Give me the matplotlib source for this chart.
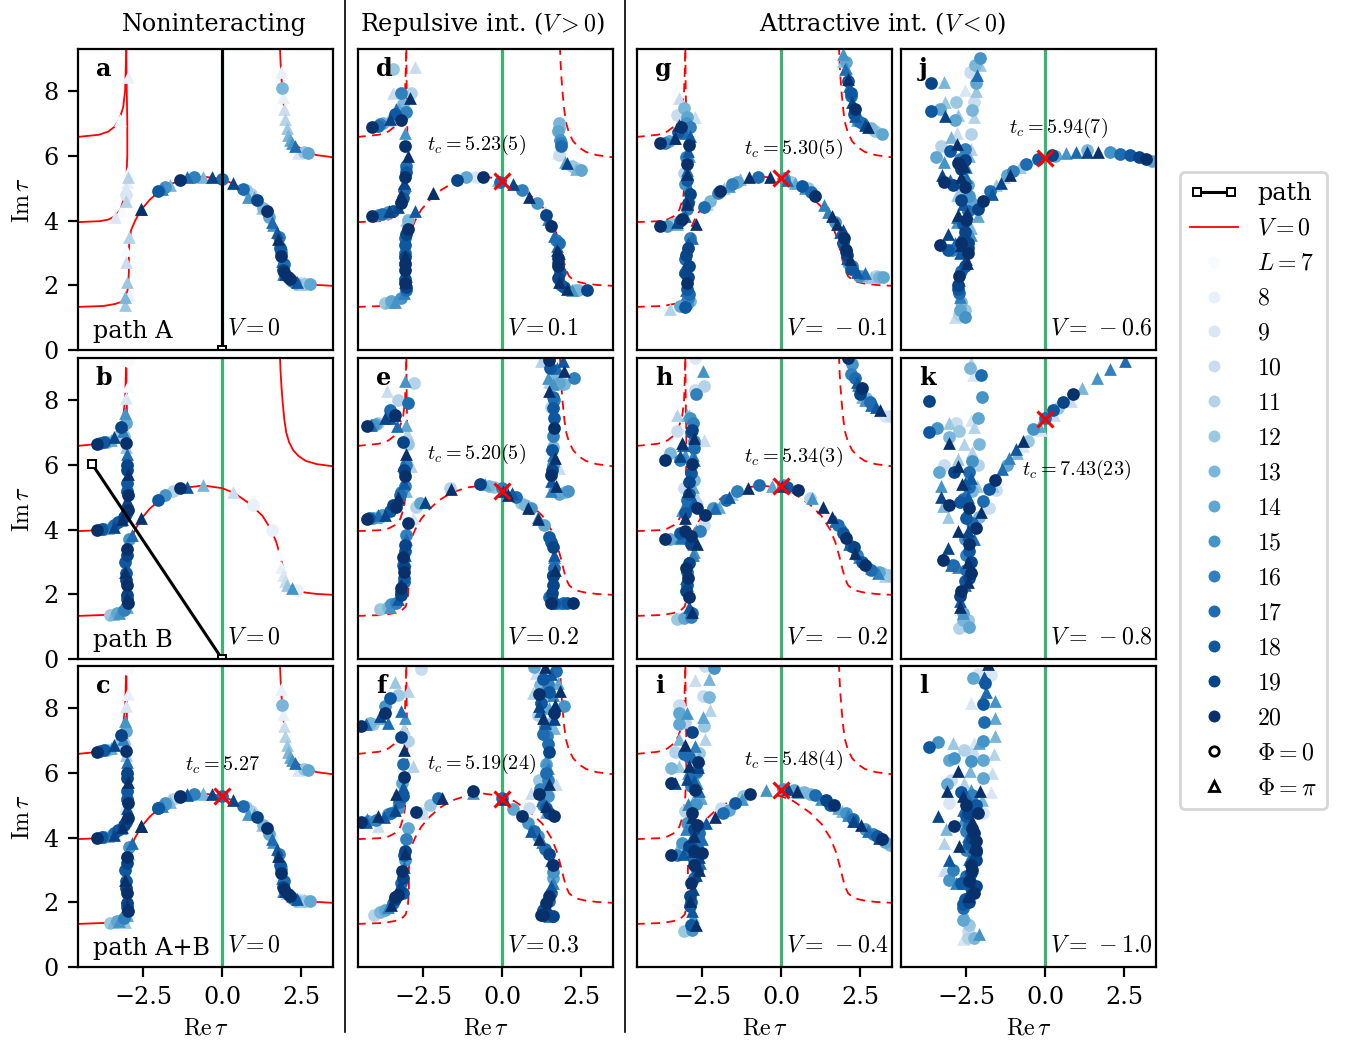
import numpy as np
import matplotlib
matplotlib.use("Agg")
import matplotlib.pyplot as plt
from matplotlib.lines import Line2D
from matplotlib.legend_handler import HandlerLine2D

plt.rcParams["font.family"] = "DejaVu Serif"
plt.rcParams["mathtext.fontset"] = "cm"
plt.rcParams["font.size"] = 8.6

# V=0 reference curves (Re tau, Im tau)
curve_arc = [(-4.6, 1.33), (-3.75, 1.36), (-3.4, 1.42), (-3.2, 1.48), (-3.05, 1.62), (-2.98, 1.9), (-2.95, 2.39),
             (-2.95, 3.0), (-2.94, 3.3), (-2.88, 3.7), (-2.75, 4.0), (-2.56, 4.33), (-2.3, 4.63), (-2.0, 4.9),
             (-1.6, 5.14), (-1.1, 5.3), (-0.6, 5.36), (0.0, 5.28), (0.4, 5.12), (0.9, 4.78), (1.28, 4.42), (1.55, 4.0),
             (1.72, 3.6), (1.85, 3.15), (1.95, 2.75), (2.03, 2.47), (2.12, 2.28), (2.25, 2.17), (2.42, 2.1), (2.65, 2.05),
             (3.0, 2.01), (3.55, 1.98)]
curve_mid = [(-4.6, 3.95), (-3.87, 3.98), (-3.6, 4.03), (-3.4, 4.13), (-3.22, 4.33), (-3.1, 4.7), (-3.03, 5.3),
             (-3.0, 6.0), (-3.0, 7.0), (-3.02, 8.2), (-3.03, 9.4)]
curve_top = [(-4.6, 6.58), (-3.9, 6.65), (-3.6, 6.75), (-3.4, 6.9), (-3.25, 7.13), (-3.13, 7.5), (-3.07, 8.0),
             (-3.05, 8.6), (-3.03, 9.4)]
curve_right = [(1.83, 9.4), (1.85, 8.9), (1.88, 8.4), (1.92, 7.9), (1.97, 7.4), (2.03, 7.0), (2.12, 6.7), (2.25, 6.45),
               (2.42, 6.27), (2.65, 6.12), (3.0, 6.02), (3.55, 5.95)]

# zeros: (Re tau, Im tau, L)
circ_a = [(2.78, 2.03, 14), (2.62, 2.03, 12), (2.5, 2.06, 10), (2.09, 2.25, 20), (2.2, 2.13, 16), (1.93, 2.47, 19),
          (1.95, 2.65, 17), (1.88, 2.89, 20), (1.85, 3.02, 16), (1.83, 3.14, 18), (1.41, 4.28, 20), (1.3, 4.4, 13),
          (1.12, 4.62, 19), (0.9, 4.82, 11), (0.67, 4.98, 17), (0.0, 5.29, 17), (-0.9, 5.35, 16), (-1.33, 5.26, 20),
          (-1.8, 5.05, 15), (-2.04, 4.9, 18), (1.9, 8.08, 13), (2.73, 6.08, 14), (2.58, 6.13, 12), (-3.03, 4.79, 9)]
tri_a = [(-2.99, 8.45, 8), (-3.22, 7.1, 7), (-2.99, 5.5, 7), (-2.99, 5.36, 11), (-3.03, 5.0, 9), (-3.03, 4.6, 11),
         (-3.2, 4.3, 7), (-3.38, 4.12, 9), (-2.56, 4.35, 17), (-2.56, 4.35, 20), (-2.96, 3.48, 11), (-3.03, 3.09, 7),
         (-3.03, 2.73, 10), (-3.01, 2.11, 12), (-2.96, 1.7, 8), (-3.06, 1.63, 13), (-3.08, 1.39, 12),
         (-1.64, 5.1, 13), (-1.9, 4.98, 16), (-1.12, 5.34, 17), (-0.59, 5.36, 13), (-0.33, 5.36, 19), (0.36, 5.15, 19),
         (0.83, 4.74, 15), (1.25, 4.38, 12), (1.57, 3.97, 17), (1.73, 3.66, 18), (1.78, 3.42, 20), (1.9, 2.75, 17),
         (1.93, 2.35, 16), (2.36, 2.11, 18), (2.6, 2.1, 10),
         (1.88, 8.59, 8), (1.93, 7.83, 8), (1.97, 7.44, 10), (2.0, 7.14, 11), (2.04, 6.85, 12), (2.09, 6.65, 13),
         (2.14, 6.5, 14), (2.2, 6.4, 15), (2.31, 6.3, 17), (2.4, 6.1, 9)]
extra_a = [(1.95, 2.4, 20), (2.0, 2.35, 19), (2.15, 2.2, 20), (1.85, 3.3, 17), (1.8, 3.5, 16), (1.6, 3.85, 15),
           (1.5, 4.1, 14), (1.0, 4.72, 14), (0.75, 4.95, 12), (2.45, 2.05, 12), (2.3, 2.08, 14), (-3.0, 5.2, 8)]

circ_b = [(-3.56, 1.36, 12), (-3.33, 1.41, 14), (-2.99, 1.72, 20), (-3.01, 1.98, 19), (-3.01, 2.29, 20),
          (-3.03, 2.65, 18), (-3.06, 3.0, 18), (-3.01, 3.4, 20), (-3.96, 3.98, 20), (-3.75, 4.01, 15), (-3.43, 4.13, 17),
          (-3.12, 4.39, 19), (-2.99, 4.6, 20), (-2.99, 5.08, 20), (-3.01, 5.43, 18), (-3.01, 6.0, 19), (-3.96, 6.63, 20),
          (-3.85, 6.67, 16), (-3.65, 6.72, 13), (-3.03, 6.68, 20), (-3.2, 7.18, 19), (-2.99, 9.2, 7), (-3.1, 6.9, 12),
          (-2.04, 4.92, 18), (-1.8, 5.08, 15), (-1.33, 5.27, 20), (-1.55, 5.2, 11), (0.99, 4.76, 8), (1.57, 3.99, 8),
          (2.36, 2.13, 8)]
tri_b = [(-3.43, 6.85, 19), (-3.06, 7.6, 15), (-3.06, 7.38, 13), (-3.03, 8.06, 9), (-2.99, 8.44, 7), (-3.01, 6.34, 17),
         (-2.99, 5.72, 20), (-3.01, 5.3, 18), (-3.01, 4.75, 19), (-3.43, 4.09, 19), (-3.2, 4.3, 16), (-2.85, 3.83, 17),
         (-3.06, 2.68, 20), (-3.0, 1.9, 20), (-3.27, 1.41, 15), (-2.56, 4.35, 20), (-1.12, 5.3, 18), (-0.59, 5.38, 13),
         (0.36, 5.17, 10), (1.81, 3.25, 7), (1.88, 2.85, 8), (1.94, 2.6, 9), (1.99, 2.4, 10), (2.04, 2.3, 12),
         (2.2, 2.19, 15)]
extra_b = [(-3.0, 1.85, 18), (-3.02, 2.15, 18), (-3.05, 2.45, 19), (-3.03, 2.85, 17), (-3.02, 3.2, 19), (-3.0, 3.55, 16),
           (-2.95, 3.7, 15), (-3.45, 1.38, 13), (-3.1, 1.5, 16), (-3.0, 1.6, 14), (-3.8, 4.03, 18), (-3.6, 4.06, 14),
           (-3.3, 4.22, 18), (-3.18, 4.33, 20), (-3.03, 4.48, 18), (-3.0, 4.9, 19), (-3.0, 5.2, 18), (-3.0, 5.6, 17),
           (-3.02, 5.85, 19), (-3.0, 6.15, 16), (-3.75, 6.7, 18), (-3.5, 6.78, 14), (-3.3, 6.9, 12), (-3.15, 7.05, 16),
           (-3.03, 7.3, 14), (-3.05, 6.55, 12)]

circ_d = [(-3.72, 1.44, 12), (-3.5, 1.5, 14), (-3.03, 1.85, 17), (-3.08, 2.06, 20), (-3.08, 2.47, 20), (-3.06, 2.88, 19),
          (-3.06, 3.25, 18), (-3.03, 3.58, 19), (-2.98, 3.73, 20), (-2.98, 4.02, 13), (-4.12, 4.15, 20), (-3.93, 4.17, 15),
          (-3.6, 4.25, 15), (-3.2, 4.54, 20), (-3.09, 4.95, 17), (-3.08, 5.36, 20), (-3.03, 5.67, 17), (-3.06, 6.29, 20),
          (-4.12, 6.89, 20), (-3.93, 6.93, 17), (-3.77, 7.0, 13), (-3.2, 7.11, 20), (-3.03, 7.34, 16), (-3.19, 7.94, 16),
          (-2.88, 7.94, 11), (-3.45, 8.68, 12), (-1.42, 5.26, 19), (-1.13, 5.34, 14), (-0.82, 5.36, 9), (-0.59, 5.36, 20),
          (-0.08, 5.2, 17), (0.62, 4.95, 16), (1.1, 4.54, 15), (1.39, 4.18, 19), (1.55, 3.84, 20), (1.78, 2.84, 20),
          (1.76, 2.58, 20), (1.76, 2.22, 19), (1.87, 2.0, 17), (2.39, 1.84, 13), (2.7, 1.84, 19), (1.81, 7.0, 13),
          (1.78, 6.76, 14), (1.84, 6.5, 15), (1.88, 6.3, 17), (1.81, 6.03, 10), (2.49, 5.55, 14), (2.33, 5.62, 11),
          (1.82, 2.4, 18), (1.8, 3.3, 17), (-3.07, 2.2, 18), (-3.08, 3.0, 17)]
tri_d = [(-3.45, 7.94, 10), (-2.93, 7.8, 20), (-2.77, 8.74, 10), (-3.35, 7.44, 17), (-3.56, 7.13, 19), (-3.08, 6.7, 15),
         (-2.98, 5.98, 20), (-3.03, 5.78, 14), (-3.19, 4.8, 20), (-3.59, 4.28, 19), (-3.03, 4.02, 12), (-2.77, 4.28, 18),
         (-2.19, 4.85, 17), (-2.19, 4.85, 20), (-3.08, 2.89, 20), (-3.08, 2.1, 20), (-3.4, 1.49, 15), (0.36, 5.13, 19),
         (-0.13, 5.26, 13), (0.86, 4.74, 20), (1.63, 3.51, 17), (1.74, 3.09, 20), (2.07, 1.88, 20), (2.05, 5.77, 19),
         (1.75, 6.1, 8), (1.35, 4.25, 11)]
extra_d = [(-3.05, 1.95, 19), (-3.05, 2.3, 19), (-3.06, 2.65, 20), (-3.08, 3.1, 18), (-3.07, 3.45, 17), (-3.1, 1.75, 16),
           (-3.2, 1.6, 15), (-3.55, 1.48, 13), (-3.8, 4.2, 17), (-3.7, 4.22, 13), (-3.45, 4.3, 18), (-3.3, 4.42, 19),
           (-3.15, 4.7, 18), (-3.1, 5.15, 19), (-3.05, 5.5, 18), (-3.07, 5.1, 16), (-3.85, 6.97, 16), (-3.6, 7.1, 12),
           (-3.4, 7.3, 18), (-3.25, 7.45, 14), (-3.15, 7.6, 13), (1.8, 3.0, 19), (1.78, 2.7, 18), (1.8, 2.1, 20),
           (1.95, 1.95, 18), (2.2, 1.85, 15), (2.3, 1.85, 12), (1.75, 3.2, 17), (1.7, 3.4, 16), (1.45, 4.05, 16),
           (1.8, 6.85, 13), (1.82, 6.65, 14), (1.85, 6.4, 16), (2.0, 5.8, 14), (2.2, 5.7, 12), (2.35, 5.6, 13)]

circ_e = [(-3.87, 1.55, 12), (-3.61, 1.62, 13), (-3.35, 1.72, 16), (-3.19, 1.98, 19), (-3.19, 2.19, 20), (-3.11, 2.39, 17),
          (-3.11, 2.7, 20), (-3.14, 2.91, 17), (-3.06, 3.53, 19), (-3.03, 3.84, 16), (-2.98, 4.2, 20), (-4.29, 4.33, 20),
          (-4.08, 4.35, 15), (-3.87, 4.4, 13), (-3.35, 4.71, 20), (-3.56, 4.56, 18), (-3.24, 5.07, 17), (-3.08, 5.33, 16),
          (-3.08, 5.64, 20), (-3.03, 6.0, 16), (-3.14, 6.7, 19), (-2.98, 6.64, 12), (-4.29, 7.19, 20), (-4.08, 7.24, 15),
          (-3.92, 7.29, 11), (-3.4, 7.55, 20), (-3.56, 7.7, 17), (-3.29, 8.01, 11), (-2.98, 7.91, 17), (-2.78, 8.53, 11),
          (-2.74, 4.71, 11), (-2.61, 4.81, 14), (-1.66, 5.28, 11), (-0.69, 5.4, 19), (-0.4, 5.36, 13), (0.0, 5.28, 16),
          (0.44, 4.99, 17), (0.6, 4.82, 12), (0.92, 4.66, 15), (1.34, 4.14, 14), (1.47, 3.78, 18), (1.62, 3.47, 19),
          (1.65, 2.8, 17), (1.62, 2.29, 19), (1.49, 1.93, 17), (1.55, 1.72, 20), (1.92, 1.72, 17), (2.23, 1.72, 20),
          (2.0, 5.15, 13), (2.08, 5.2, 15), (1.6, 5.33, 11), (1.54, 5.67, 20), (1.6, 6.0, 15), (1.65, 7.13, 20),
          (1.63, 7.44, 18), (1.62, 7.75, 18), (1.55, 7.8, 11), (1.6, 8.11, 17), (1.81, 8.53, 14), (2.26, 8.68, 16),
          (1.97, 8.5, 13), (1.47, 9.25, 20), (-3.15, 3.15, 20), (-3.1, 2.5, 18), (1.6, 2.6, 18), (1.57, 2.05, 19),
          (1.6, 6.9, 16), (1.6, 6.55, 13)]
tri_e = [(-3.08, 8.58, 15), (-3.64, 8.29, 10), (-3.4, 7.55, 20), (-3.72, 7.44, 19), (-3.32, 7.19, 17), (-3.05, 7.24, 14),
         (-3.0, 6.98, 11), (-3.05, 6.33, 20), (-2.87, 5.95, 11), (-3.14, 6.0, 17), (-2.95, 6.1, 10), (-3.05, 5.2, 13),
         (-3.29, 5.02, 20), (-3.72, 4.45, 19), (-3.94, 4.45, 17), (-3.4, 4.8, 19), (-2.82, 4.35, 9), (-2.45, 4.84, 19),
         (-1.63, 5.25, 20), (-3.08, 3.22, 18), (-3.08, 3.06, 14), (-3.19, 2.29, 20), (-3.56, 1.62, 15), (0.02, 5.2, 19),
         (0.18, 5.07, 20), (0.83, 4.66, 20), (1.15, 4.32, 20), (1.67, 2.75, 20), (1.65, 3.16, 16), (1.7, 5.33, 20),
         (1.67, 6.2, 20), (1.55, 6.62, 13), (1.81, 5.9, 10), (1.47, 8.27, 20), (1.44, 8.68, 15), (1.97, 8.89, 20),
         (1.94, 9.2, 18), (1.71, 8.83, 12), (1.24, 9.21, 11)]
extra_e = [(-3.5, 1.7, 15), (-3.3, 1.85, 18), (-3.2, 2.05, 19), (-3.12, 2.55, 18), (-3.12, 2.85, 19), (-3.1, 3.05, 17),
           (-3.07, 3.35, 18), (-3.05, 3.7, 17), (-4.2, 4.35, 18), (-4.0, 4.38, 14), (-3.8, 4.45, 15), (-3.6, 4.6, 18),
           (-3.45, 4.75, 19), (-3.3, 4.95, 18), (-3.2, 5.15, 16), (-3.12, 5.45, 18), (-3.1, 5.85, 19), (-4.15, 7.22, 17),
           (-4.0, 7.26, 14), (-3.55, 7.45, 18), (-3.5, 7.6, 15), (-0.55, 5.4, 14), (-0.25, 5.32, 12), (0.3, 5.12, 18),
           (0.72, 4.75, 13), (1.15, 4.4, 16), (1.55, 3.6, 18), (1.65, 3.2, 18), (1.62, 2.55, 19), (1.55, 2.1, 18),
           (1.65, 1.72, 18), (1.75, 1.72, 16), (2.05, 1.72, 18), (1.55, 5.5, 18), (1.58, 5.85, 19), (1.62, 6.3, 17),
           (1.57, 6.45, 18), (1.55, 5.2, 16), (1.8, 5.1, 14), (1.6, 8.5, 15), (1.7, 8.7, 13), (1.5, 8.55, 11),
           (1.65, 8.0, 16), (1.75, 9.0, 17), (1.52, 9.0, 18)]

circ_f = [(-4.06, 1.62, 11), (-3.71, 1.77, 14), (-3.45, 1.98, 17), (-3.29, 2.24, 20), (-3.19, 2.6, 17), (-3.17, 2.96, 20),
          (-3.08, 3.32, 15), (-3.06, 3.58, 19), (-3.03, 3.94, 16), (-2.98, 4.3, 14), (-2.72, 4.79, 20), (-2.56, 4.76, 10),
          (-2.29, 5.02, 12), (-2.03, 5.23, 17), (-4.45, 4.47, 20), (-4.24, 4.5, 14), (-3.5, 4.76, 17), (-3.29, 4.92, 15),
          (-3.14, 5.28, 18), (-3.12, 5.88, 20), (-3.14, 6.26, 17), (-3.19, 7.11, 19), (-2.98, 6.98, 11), (-4.45, 7.44, 20),
          (-4.19, 7.55, 13), (-3.72, 7.86, 20), (-3.72, 8.06, 15), (-3.56, 8.32, 18), (-3.29, 8.39, 12), (-2.56, 9.22, 10),
          (-0.93, 5.43, 20), (0.0, 5.23, 17), (0.34, 4.87, 14), (0.62, 4.68, 20), (0.86, 4.92, 10), (0.81, 4.45, 15),
          (1.13, 4.04, 15), (1.47, 3.5, 19), (1.6, 3.16, 20), (1.6, 2.75, 14), (1.55, 2.29, 17), (1.39, 1.98, 20),
          (1.23, 1.62, 20), (1.6, 1.57, 19), (1.44, 1.62, 16), (1.65, 4.68, 20), (1.39, 4.92, 18), (1.16, 5.33, 20),
          (1.44, 5.28, 15), (1.16, 5.79, 12), (1.44, 5.79, 16), (1.39, 6.26, 14), (1.47, 6.64, 19), (1.44, 6.88, 17),
          (1.41, 7.15, 16), (1.65, 7.86, 20), (1.95, 8.06, 15), (1.18, 8.45, 20), (1.24, 8.16, 18), (1.13, 7.8, 11),
          (1.44, 8.73, 16), (1.7, 9.14, 17), (1.02, 9.28, 14), (1.44, 8.37, 12), (1.3, 1.75, 18), (1.5, 2.05, 17),
          (1.35, 7.4, 15), (-3.4, 2.1, 19), (-3.15, 2.3, 18)]
tri_f = [(-3.4, 8.8, 12), (-2.98, 8.53, 11), (-3.19, 7.91, 17), (-3.08, 7.7, 15), (-3.61, 7.55, 17), (-3.87, 7.75, 19),
         (-3.12, 7.39, 11), (-3.12, 6.72, 20), (-2.82, 6.22, 11), (-3.35, 5.33, 20), (-3.94, 4.66, 20), (-4.29, 4.56, 16),
         (-3.94, 4.37, 10), (-3.08, 3.53, 20), (-3.24, 2.54, 19), (-3.5, 1.93, 20), (-1.89, 5.23, 20), (-0.93, 5.38, 15),
         (-2.51, 4.76, 10), (0.07, 5.2, 19), (0.92, 4.2, 18), (1.16, 3.94, 20), (1.6, 2.6, 16), (1.47, 5.64, 20),
         (1.39, 4.97, 20), (0.92, 5.38, 10), (1.44, 6.15, 16), (1.7, 5.64, 10), (1.31, 7.7, 20), (1.67, 8.11, 20),
         (1.65, 7.39, 13), (0.97, 8.47, 11), (1.83, 8.53, 20), (1.18, 8.06, 19), (1.76, 8.78, 14), (1.37, 9.28, 20),
         (1.55, 9.04, 18), (1.07, 9.09, 10)]
extra_f = [(-3.85, 1.7, 13), (-3.6, 1.85, 16), (-3.4, 2.15, 20), (-3.25, 2.4, 18), (-3.15, 2.75, 19), (-3.12, 3.1, 17),
           (-3.1, 3.45, 18), (-4.3, 4.48, 18), (-4.0, 4.55, 16), (-3.75, 4.65, 18), (-3.6, 4.72, 15), (-3.4, 4.85, 19),
           (-3.25, 5.1, 17), (-3.15, 5.55, 18), (-3.18, 5.7, 14), (-4.3, 7.5, 17), (-4.1, 7.5, 12), (-3.85, 7.7, 14),
           (1.0, 4.2, 17), (1.25, 3.85, 16), (1.35, 3.65, 17), (1.55, 3.3, 18), (1.6, 2.95, 15), (1.55, 2.5, 18),
           (1.48, 2.2, 20), (1.42, 1.85, 19), (1.3, 1.6, 20), (1.5, 1.58, 17), (1.3, 5.0, 16), (1.25, 5.15, 17),
           (1.5, 4.75, 19), (1.4, 4.8, 14), (1.2, 5.5, 16), (1.45, 5.5, 12), (1.4, 6.0, 17), (1.38, 6.4, 15),
           (1.3, 7.2, 17), (1.35, 7.55, 18), (1.45, 7.5, 13), (1.2, 7.9, 18), (1.3, 8.0, 12), (1.5, 8.0, 14),
           (1.5, 8.5, 18), (1.35, 8.65, 15), (1.2, 8.7, 13), (1.6, 8.4, 16), (1.3, 8.9, 18), (1.65, 7.65, 19)]

circ_g = [(-3.03, 1.34, 18), (-3.19, 1.36, 14), (-2.87, 1.52, 13), (-2.93, 1.72, 17), (-2.98, 2.08, 20), (-3.03, 2.39, 18),
          (-3.03, 2.8, 17), (-2.96, 3.14, 19), (-2.87, 3.47, 16), (-3.82, 3.84, 20), (-3.61, 3.84, 15), (-3.45, 3.89, 12),
          (-3.14, 4.04, 20), (-2.98, 4.35, 16), (-2.87, 4.81, 19), (-3.03, 5.12, 15), (-2.98, 5.74, 20), (-3.08, 5.48, 11),
          (-2.93, 6.34, 20), (-3.82, 6.39, 20), (-3.66, 6.41, 16), (-3.16, 6.88, 20), (-2.87, 6.88, 16), (-2.98, 7.19, 14),
          (-3.06, 7.47, 13), (-3.3, 7.26, 10), (-2.45, 4.42, 17), (-2.24, 4.6, 13), (-1.93, 4.92, 20), (-1.56, 5.14, 16),
          (-0.74, 5.36, 17), (0.09, 5.31, 15), (0.65, 5.07, 18), (0.86, 5.02, 12), (1.07, 4.76, 20), (1.97, 3.32, 18),
          (2.13, 2.7, 14), (2.04, 3.02, 17), (3.0, 2.29, 11), (3.23, 2.27, 14), (2.34, 7.44, 20), (2.21, 7.86, 17),
          (2.13, 8.32, 18), (2.97, 6.77, 12), (3.2, 6.67, 14), (2.44, 7.08, 16), (-2.92, 2.6, 19), (-2.97, 1.9, 18),
          (2.0, 3.45, 20), (2.1, 2.95, 19), (2.2, 2.5, 18), (2.45, 2.3, 15)]
tri_g = [(-3.24, 7.8, 10), (-2.72, 7.19, 10), (-3.24, 6.95, 20), (-3.37, 6.54, 20), (-2.87, 6.62, 18), (-2.93, 6.0, 15),
         (-2.98, 5.43, 20), (-2.93, 4.76, 14), (-2.98, 4.5, 20), (-3.29, 3.94, 19), (-2.68, 3.89, 20), (-2.82, 3.47, 17),
         (-3.03, 2.5, 19), (-3.5, 1.26, 11), (-1.03, 5.33, 20), (-0.35, 5.35, 20), (-1.29, 5.28, 13), (-1.66, 5.07, 15),
         (0.44, 5.17, 14), (1.36, 4.47, 16), (1.6, 4.14, 20), (1.76, 3.89, 20), (2.18, 2.8, 20), (2.65, 2.39, 17),
         (2.76, 6.88, 20), (1.97, 9.14, 15), (2.02, 8.68, 17), (2.13, 8.37, 20), (1.97, 8.94, 12), (2.5, 7.13, 17),
         (2.34, 7.24, 18), (1.95, 3.7, 19)]
extra_g = [(-2.95, 1.6, 16), (-3.0, 1.85, 17), (-2.95, 2.25, 19), (-3.03, 2.6, 18), (-3.02, 2.95, 19), (-2.95, 3.3, 18),
           (-2.98, 1.42, 15), (-3.3, 3.9, 14), (-3.2, 3.98, 17), (-3.05, 4.15, 18), (-2.95, 4.55, 19), (-2.92, 5.0, 17),
           (-2.97, 5.25, 18), (-2.98, 5.55, 17), (-3.0, 5.95, 16), (-2.95, 6.15, 18), (-3.55, 6.45, 14), (-3.4, 6.55, 17),
           (-3.25, 6.75, 18), (-3.05, 6.7, 17), (-3.0, 7.0, 15), (-2.35, 4.5, 11), (-2.0, 4.85, 16), (-1.8, 5.0, 12),
           (-1.4, 5.2, 14), (0.2, 5.25, 17), (0.3, 5.2, 12), (0.75, 5.0, 15), (0.95, 4.88, 17), (1.5, 4.25, 16),
           (1.7, 3.95, 15), (1.85, 3.65, 18), (2.05, 3.1, 20), (2.1, 2.85, 18), (2.25, 2.6, 16), (2.4, 2.4, 18),
           (2.6, 2.3, 13), (2.85, 2.27, 12), (3.1, 2.25, 13), (2.15, 8.15, 17), (2.2, 7.95, 18), (2.25, 7.65, 19),
           (2.3, 7.3, 18), (2.4, 7.1, 14), (2.55, 7.0, 17), (2.65, 6.95, 19), (2.85, 6.85, 13), (2.05, 8.7, 15),
           (2.05, 8.9, 14)]

circ_h = [(-3.29, 1.24, 12), (-3.08, 1.26, 14), (-2.82, 1.41, 17), (-2.93, 1.93, 20), (-2.98, 2.29, 18), (-2.98, 2.7, 17),
          (-2.93, 2.96, 19), (-3.66, 3.71, 20), (-3.5, 3.71, 14), (-3.03, 3.94, 20), (-2.56, 3.94, 16), (-2.45, 4.14, 10),
          (-2.66, 4.66, 20), (-2.98, 4.92, 17), (-2.93, 5.48, 19), (-3.08, 5.28, 10), (-2.77, 5.54, 13), (-2.82, 6.02, 20),
          (-3.66, 6.15, 20), (-3.5, 6.36, 13), (-2.77, 6.52, 17), (-2.82, 7.08, 19), (-3.29, 7.05, 10), (-2.88, 7.44, 15),
          (-2.68, 8.18, 16), (-2.45, 8.42, 11), (-2.72, 8.32, 10), (-2.74, 9.3, 9), (-2.4, 4.45, 20), (-2.14, 4.66, 15),
          (-1.4, 5.2, 16), (-0.69, 5.38, 17), (0.07, 5.38, 15), (0.53, 5.23, 20), (0.92, 4.97, 11), (1.81, 4.14, 17),
          (2.04, 3.75, 20), (2.65, 2.89, 20), (2.39, 3.22, 16), (3.39, 2.6, 12), (2.55, 8.37, 20), (2.34, 8.68, 17),
          (2.23, 9.11, 15), (2.13, 9.3, 20), (2.7, 8.06, 13), (3.44, 7.5, 10), (3.1, 2.7, 14), (2.85, 2.75, 17),
          (-2.85, 3.55, 19), (-3.2, 3.9, 18), (-2.95, 2.5, 20), (2.2, 3.5, 18)]
tri_h = [(-3.29, 7.55, 11), (-2.98, 7.55, 13), (-3.14, 6.67, 20), (-2.77, 6.82, 20), (-3.19, 6.26, 19), (-2.8, 6.31, 16),
         (-2.45, 6.77, 10), (-2.93, 5.64, 14), (-2.95, 5.18, 20), (-2.66, 4.97, 11), (-3.03, 4.35, 20), (-3.14, 3.78, 17),
         (-2.66, 3.55, 20), (-2.8, 3.22, 16), (-2.98, 2.29, 19), (-2.82, 1.46, 20), (-2.47, 8.89, 15), (-1.66, 5.02, 18),
         (-1.05, 5.28, 20), (-0.29, 5.36, 14), (-2.08, 4.66, 17), (0.02, 5.33, 19), (0.97, 4.97, 15), (1.34, 4.71, 20),
         (1.6, 4.4, 20), (2.02, 3.94, 17), (2.34, 3.27, 20), (3.07, 2.65, 16), (3.13, 7.7, 20), (2.86, 7.85, 17),
         (2.44, 8.47, 16), (2.55, 8.11, 13)]
extra_h = [(-2.85, 1.3, 16), (-2.9, 1.6, 18), (-3.0, 2.1, 19), (-3.0, 2.5, 18), (-3.0, 2.8, 20), (-2.75, 3.3, 15),
           (-2.95, 3.7, 17), (-3.2, 3.75, 16), (-2.85, 3.8, 20), (-2.7, 4.0, 14), (-3.05, 4.5, 18), (-3.15, 4.6, 15),
           (-2.95, 4.7, 17), (-2.75, 4.85, 18), (-2.9, 5.1, 18), (-2.8, 5.3, 14), (-2.85, 5.75, 18), (-2.75, 6.15, 17),
           (-3.2, 6.15, 16), (-3.05, 6.3, 15), (-2.75, 6.75, 15), (-3.1, 6.6, 18), (-2.8, 7.3, 16), (-2.9, 7.55, 12),
           (-2.85, 7.0, 18), (-1.95, 4.7, 14), (-1.75, 4.9, 17), (-1.55, 5.1, 12), (0.2, 5.3, 18), (1.7, 4.25, 17),
           (1.95, 3.9, 18), (2.15, 3.55, 17), (2.3, 3.45, 19), (2.45, 3.15, 16), (2.55, 3.0, 18), (2.85, 2.8, 15),
           (3.2, 2.65, 12), (3.3, 2.55, 11), (2.2, 8.8, 16), (2.4, 8.55, 18), (2.5, 8.2, 19), (2.65, 8.0, 15),
           (2.8, 7.95, 17), (3.0, 7.8, 18), (3.3, 7.5, 9)]

circ_i = [(-3.08, 1.12, 12), (-2.82, 1.15, 15), (-2.87, 1.88, 18), (-2.87, 2.19, 19), (-2.84, 2.58, 20), (-2.66, 3.0, 18),
          (-2.5, 3.53, 20), (-2.76, 3.58, 20), (-3.48, 3.45, 20), (-3.29, 3.47, 16), (-3.14, 3.84, 15), (-2.66, 4.4, 20),
          (-2.98, 4.45, 15), (-2.82, 4.76, 20), (-3.03, 4.81, 11), (-2.74, 5.46, 20), (-3.48, 5.67, 20), (-2.63, 6.33, 20),
          (-3.48, 6.15, 13), (-3.08, 6.57, 17), (-3.35, 6.64, 11), (-2.61, 6.62, 12), (-2.82, 7.27, 19), (-3.22, 7.5, 14),
          (-3.03, 7.57, 11), (-2.45, 7.44, 12), (-3.24, 7.85, 14), (-3.24, 8.11, 10), (-2.29, 8.34, 13), (-2.47, 8.37, 10),
          (-2.13, 9.25, 15), (-2.42, 9.3, 10), (-1.85, 4.76, 17), (-1.89, 4.92, 10), (-1.45, 5.07, 18), (-0.98, 5.33, 20),
          (-1.19, 5.28, 12), (0.07, 5.51, 15), (0.71, 5.4, 13), (1.07, 5.3, 17), (1.41, 5.15, 19), (1.67, 5.0, 20),
          (2.28, 4.56, 17), (3.02, 4.04, 18), (3.2, 3.94, 20), (3.44, 3.78, 13), (-2.9, 3.75, 19), (-2.7, 4.05, 16),
          (-2.75, 3.3, 17), (-2.85, 5.9, 17), (-2.7, 6.0, 14)]
tri_i = [(-2.74, 8.87, 10), (-2.29, 8.89, 13), (-2.98, 7.85, 15), (-2.47, 7.72, 14), (-2.24, 7.93, 11), (-3.24, 7.03, 13),
         (-2.4, 7.05, 11), (-3.03, 6.85, 20), (-2.72, 6.82, 16), (-2.93, 6.21, 20), (-2.63, 6.19, 19), (-3.24, 6.21, 12),
         (-2.98, 5.8, 19), (-3.37, 5.67, 19), (-2.66, 5.69, 15), (-2.77, 5.18, 13), (-2.53, 5.23, 14), (-2.82, 4.64, 20),
         (-2.08, 4.64, 20), (-2.38, 4.45, 18), (-2.76, 4.04, 20), (-2.5, 3.94, 17), (-2.98, 3.63, 16), (-3.29, 3.6, 13),
         (-2.8, 3.58, 19), (-2.56, 3.22, 17), (-2.61, 3.0, 20), (-2.87, 2.03, 20), (-2.82, 1.72, 18), (-2.68, 1.31, 20),
         (-2.82, 1.47, 13), (-0.48, 5.46, 15), (0.49, 5.43, 20), (1.94, 4.82, 13), (2.28, 4.51, 19), (2.53, 4.4, 20),
         (2.13, 4.71, 16), (0.23, 5.51, 19)]
extra_i = [(-2.85, 1.3, 18), (-2.8, 1.55, 15), (-2.85, 2.0, 18), (-2.8, 2.4, 19), (-2.75, 2.75, 17), (-2.7, 2.85, 19),
           (-2.75, 3.15, 20), (-2.6, 3.4, 19), (-2.9, 3.55, 17), (-3.1, 3.5, 18), (-2.65, 3.75, 17), (-2.85, 3.95, 18),
           (-2.6, 4.15, 17), (-3.0, 4.25, 16), (-2.75, 4.25, 19), (-2.95, 5.05, 16), (-2.7, 5.05, 15), (-2.75, 5.75, 18),
           (-2.85, 5.6, 16), (-2.6, 5.45, 17), (-2.65, 6.05, 17), (-2.95, 6.0, 15), (-2.9, 6.5, 17), (-2.6, 6.45, 13),
           (-1.65, 4.85, 14), (-1.25, 5.2, 15), (0.4, 5.48, 14), (0.55, 5.42, 15), (0.9, 5.35, 13), (1.25, 5.2, 15),
           (1.55, 5.0, 18), (1.8, 4.9, 14), (2.05, 4.75, 15), (2.35, 4.5, 18), (2.65, 4.25, 15), (2.75, 4.2, 17),
           (2.9, 4.1, 16), (3.1, 3.98, 19), (3.3, 3.85, 14)]

circ_j = [(-2.55, 1.03, 15), (-2.71, 1.08, 11), (-2.55, 1.24, 12), (-2.66, 1.49, 13), (-2.71, 1.75, 17), (-2.76, 2.0, 19),
          (-2.74, 2.29, 20), (-2.44, 2.99, 20), (-3.34, 3.25, 20), (-3.08, 3.09, 18), (-2.55, 3.66, 19), (-2.66, 3.3, 20),
          (-2.49, 4.02, 20), (-1.95, 4.6, 20), (-2.13, 4.37, 19), (-2.34, 4.58, 14), (-2.66, 4.65, 19), (-2.55, 5.05, 20),
          (-3.2, 5.2, 20), (-2.76, 5.77, 20), (-2.52, 5.87, 19), (-3.46, 5.95, 14), (-3.29, 6.29, 11), (-3.02, 6.15, 18),
          (-2.55, 6.2, 16), (-2.36, 6.67, 11), (-2.31, 7.42, 13), (-2.26, 7.65, 10), (-2.81, 7.65, 12), (-2.86, 7.11, 14),
          (-3.34, 7.44, 14), (-3.62, 7.39, 18), (-3.62, 8.25, 19), (-2.18, 8.25, 14), (-2.37, 8.58, 10), (-2.07, 9.02, 15),
          (-2.23, 8.81, 13), (-1.02, 5.52, 16), (-0.6, 5.74, 17), (-0.23, 5.91, 18), (0.21, 6.01, 19), (2.04, 6.11, 15),
          (2.38, 6.06, 17), (2.69, 6.01, 18), (2.97, 5.96, 19), (3.2, 5.91, 20), (3.39, 5.83, 14), (1.32, 6.18, 13),
          (-2.45, 3.3, 19), (-2.55, 2.6, 18)]
tri_j = [(-2.86, 1.03, 10), (-2.48, 2.68, 20), (-2.44, 3.5, 17), (-2.34, 3.76, 13), (-3.06, 3.59, 19), (-2.85, 3.2, 17),
         (-2.66, 3.25, 20), (-2.75, 4.18, 20), (-2.48, 4.23, 20), (-2.13, 4.13, 14), (-2.8, 3.97, 15), (-3.27, 5.41, 19),
         (-2.66, 5.36, 20), (-2.57, 5.67, 20), (-3.2, 5.8, 15), (-2.8, 6.37, 20), (-2.97, 6.58, 13), (-2.8, 4.8, 12),
         (-2.8, 6.7, 10), (-2.34, 6.2, 11), (-1.1, 5.41, 20), (-1.41, 5.15, 19), (-1.69, 4.82, 18), (-1.31, 5.36, 11),
         (0.65, 6.1, 15), (0.99, 6.13, 17), (1.32, 6.13, 19), (1.66, 6.13, 20), (-2.26, 7.2, 11), (-2.2, 8.0, 12),
         (-2.52, 8.02, 9), (-3.2, 8.27, 13), (-2.16, 8.5, 17), (-2.05, 8.81, 12), (-3.17, 7.65, 12), (-3.17, 7.24, 19),
         (-2.77, 7.27, 12)]
extra_j = [(-2.7, 1.25, 14), (-2.68, 1.65, 16), (-2.75, 1.9, 18), (-2.72, 2.15, 18), (-2.65, 2.45, 17), (-2.5, 2.8, 19),
           (-2.45, 3.15, 19), (-2.7, 3.0, 18), (-2.95, 3.1, 16), (-2.85, 3.3, 17), (-2.6, 3.4, 18), (-2.35, 3.55, 15),
           (-2.6, 3.9, 18), (-2.8, 4.1, 17), (-2.45, 4.3, 17), (-2.6, 4.5, 18), (-2.4, 4.75, 15), (-2.5, 5.35, 17),
           (-2.9, 5.1, 19), (-3.0, 5.25, 17), (-2.65, 5.6, 19), (-2.5, 5.65, 16), (-2.45, 5.1, 14), (-2.7, 4.9, 12),
           (-2.7, 5.9, 16), (-2.4, 6.0, 13), (-1.75, 4.9, 17), (-1.55, 5.1, 12), (-1.2, 5.4, 14), (-0.8, 5.65, 12),
           (0.3, 6.0, 14)]

circ_k = [(-2.72, 0.95, 11), (-2.4, 1.0, 14), (-2.45, 1.2, 12), (-2.61, 1.41, 14), (-2.67, 2.1, 20), (-2.35, 2.65, 20),
          (-3.24, 3.06, 20), (-2.93, 2.91, 17), (-2.4, 3.55, 20), (-2.2, 4.04, 20), (-2.5, 4.35, 18), (-2.4, 4.66, 20),
          (-3.03, 4.76, 20), (-1.95, 4.87, 17), (-1.77, 4.66, 10), (-1.77, 5.26, 18), (-1.58, 5.54, 20), (-1.56, 5.23, 10),
          (-2.4, 5.79, 17), (-2.87, 5.79, 19), (-3.37, 5.79, 14), (-3.19, 5.99, 10), (-2.32, 6.12, 15), (-2.13, 5.99, 11),
          (-2.1, 6.64, 13), (-2.74, 7.05, 12), (-3.68, 7.0, 18), (-3.43, 7.13, 15), (-3.03, 6.85, 13), (-2.12, 7.44, 14),
          (-3.68, 7.96, 19), (-2.01, 8.09, 15), (-2.03, 8.78, 17), (-2.38, 9.0, 13), (-2.82, 7.28, 10), (-0.37, 7.11, 15),
          (0.0, 7.46, 17), (0.26, 7.7, 18), (0.57, 7.94, 19), (0.88, 8.18, 20), (-2.6, 4.95, 17), (-2.35, 3.0, 19),
          (-2.55, 2.4, 18), (-2.5, 3.2, 16)]
tri_k = [(-2.68, 1.62, 20), (-2.61, 1.41, 15), (-2.45, 2.39, 20), (-2.45, 3.0, 20), (-2.98, 2.91, 17), (-3.08, 3.44, 19),
         (-2.75, 3.94, 20), (-2.45, 3.94, 19), (-2.03, 4.54, 20), (-3.08, 4.38, 12), (-3.29, 5.02, 19), (-3.29, 5.33, 15),
         (-3.24, 4.74, 13), (-2.64, 5.41, 20), (-2.45, 4.99, 18), (-2.35, 5.59, 18), (-2.14, 5.33, 12), (-2.75, 5.97, 20),
         (-3.03, 6.67, 20), (-2.58, 6.64, 11), (-2.3, 6.41, 11), (-2.75, 6.19, 12), (-3.03, 7.29, 12), (-2.24, 7.18, 11),
         (-2.35, 7.39, 9), (-2.28, 8.76, 9), (-2.35, 9.14, 11), (-1.14, 6.2, 16), (-0.93, 6.48, 18), (-0.69, 6.74, 20),
         (-1.37, 5.88, 17), (-0.69, 6.57, 9), (-0.14, 7.08, 9), (0.28, 7.55, 10), (1.18, 8.37, 13), (1.65, 8.68, 15),
         (2.07, 8.97, 16), (2.52, 9.22, 17), (0.81, 7.96, 10)]
extra_k = [(-2.6, 1.2, 13), (-2.7, 1.8, 18), (-2.7, 1.95, 19), (-2.55, 2.3, 17), (-2.4, 2.5, 19), (-2.35, 2.85, 18),
           (-2.5, 2.75, 17), (-2.75, 2.85, 16), (-2.4, 3.35, 18), (-2.25, 3.7, 17), (-2.55, 3.7, 15), (-2.45, 3.85, 18),
           (-2.3, 4.2, 17), (-2.5, 4.55, 17), (-2.7, 4.85, 18), (-2.55, 5.1, 16), (-2.4, 5.3, 17), (-2.55, 5.45, 18),
           (-2.3, 5.2, 13), (-2.45, 5.6, 15), (-2.1, 4.4, 13), (-1.65, 5.35, 12), (-1.2, 6.0, 14), (-0.9, 6.35, 13),
           (-0.55, 6.75, 12), (-0.2, 7.2, 14), (0.4, 7.75, 12)]

circ_l = [(-2.45, 0.9, 11), (-2.24, 0.9, 13), (-2.45, 1.1, 10), (-2.61, 1.46, 14), (-2.61, 1.82, 17), (-2.24, 2.29, 20),
          (-2.4, 2.65, 20), (-3.03, 2.69, 15), (-2.66, 2.59, 18), (-2.93, 2.99, 16), (-2.35, 3.14, 20), (-2.2, 3.63, 20),
          (-2.24, 4.14, 20), (-2.87, 4.35, 20), (-2.13, 4.76, 20), (-2.5, 4.66, 18), (-1.98, 4.76, 9), (-3.03, 5.07, 9),
          (-2.5, 5.01, 20), (-2.66, 5.41, 18), (-1.98, 5.84, 14), (-3.11, 5.64, 14), (-2.98, 5.79, 10), (-2.35, 6.36, 15),
          (-1.95, 6.41, 14), (-3.03, 6.41, 14), (-2.87, 6.46, 15), (-3.68, 6.8, 18), (-3.4, 6.95, 15), (-2.56, 6.7, 11),
          (-2.3, 6.57, 10), (-1.98, 6.98, 15), (-1.92, 7.58, 17), (-1.95, 8.14, 18), (-1.91, 8.78, 18), (-2.27, 8.92, 14),
          (-1.72, 9.02, 9), (-2.13, 9.04, 9), (-2.3, 4.0, 19), (-2.2, 3.9, 20), (-2.2, 3.3, 19), (-2.4, 4.4, 17),
          (-2.5, 4.2, 16), (-2.35, 2.9, 19), (-2.4, 3.8, 18), (-2.55, 2.1, 18), (-2.2, 2.5, 19)]
tri_l = [(-2.61, 0.85, 9), (-2.1, 1.03, 15), (-2.45, 2.19, 20), (-2.29, 2.4, 20), (-2.61, 2.6, 18), (-2.82, 2.6, 16),
         (-2.35, 2.8, 19), (-3.03, 3.32, 18), (-3.19, 2.99, 10), (-2.72, 3.75, 20), (-3.19, 3.84, 11), (-3.14, 4.27, 13),
         (-3.38, 4.68, 19), (-2.32, 4.5, 20), (-2.61, 5.28, 20), (-3.12, 5.43, 20), (-2.05, 5.43, 20), (-2.35, 5.48, 15),
         (-1.72, 5.4, 9), (-2.75, 6.07, 20), (-2.56, 5.69, 11), (-2.37, 6.05, 13), (-1.68, 6.0, 10), (-1.61, 6.57, 11),
         (-2.9, 6.91, 12), (-2.08, 6.93, 14), (-2.24, 6.93, 9), (-1.58, 7.13, 13), (-1.58, 7.7, 14), (-1.59, 8.22, 15),
         (-2.33, 8.16, 9), (-1.87, 8.5, 17), (-1.92, 8.97, 18), (-1.81, 9.35, 20), (-2.3, 3.1, 18), (-2.25, 3.5, 19)]
extra_l = [(-2.4, 1.3, 12), (-2.55, 1.6, 13), (-2.6, 1.95, 18), (-2.45, 2.25, 19), (-2.35, 2.45, 18), (-2.25, 2.55, 18),
           (-2.5, 2.8, 17), (-2.6, 2.75, 15), (-2.3, 3.0, 20), (-2.4, 3.35, 17), (-2.2, 3.55, 19), (-2.25, 3.75, 20),
           (-2.5, 3.6, 16), (-2.45, 4.05, 17), (-2.3, 4.25, 20), (-2.6, 4.55, 15), (-2.45, 4.75, 19), (-2.6, 4.85, 17),
           (-2.2, 5.0, 18), (-2.45, 5.2, 17), (-2.3, 5.3, 16), (-2.0, 5.15, 13), (-2.4, 2.0, 19)]

# critical hopping where the arc crosses Re tau = 0
tc_vals = {"c": 5.27, "d": 5.23, "e": 5.20, "f": 5.19, "g": 5.30, "h": 5.34, "i": 5.48, "j": 5.94, "k": 7.43}
tc_text = {"c": "5.27", "d": "5.23(5)", "e": "5.20(5)", "f": "5.19(24)", "g": "5.30(5)", "h": "5.34(3)",
           "i": "5.48(4)", "j": "5.94(7)", "k": "7.43(23)"}
tc_pos = {"c": (0.0, 6.23), "d": (-0.82, 6.33), "e": (-0.82, 6.33), "f": (-0.66, 6.27), "g": (0.38, 6.2),
          "h": (0.38, 6.23), "i": (0.38, 6.39), "j": (0.41, 6.85), "k": (0.98, 5.83)}
v_labels = {"a": "0", "b": "0", "c": "0", "d": "0.1", "e": "0.2", "f": "0.3", "g": r"\,-0.1", "h": r"\,-0.2",
            "i": r"\,-0.4", "j": r"\,-0.6", "k": r"\,-0.8", "l": r"\,-1.0"}
path_labels = {"a": "path A", "b": "path B", "c": "path A+B"}
path_a = ([0.0, 0.0], [0.0, 9.6])
path_b = ([0.0, -4.11], [0.0, 6.02])
L_values = list(range(7, 21))

circles = {"a": circ_a + extra_a[::2], "b": circ_b + extra_b[::2], "d": circ_d + extra_d[::2],
           "e": circ_e + extra_e[::2], "f": circ_f + extra_f[::2], "g": circ_g + extra_g[::2],
           "h": circ_h + extra_h[::2], "i": circ_i + extra_i[::2], "j": circ_j + extra_j[::2],
           "k": circ_k + extra_k[::2], "l": circ_l + extra_l[::2]}
triangles = {"a": tri_a + extra_a[1::2], "b": tri_b + extra_b[1::2], "d": tri_d + extra_d[1::2],
             "e": tri_e + extra_e[1::2], "f": tri_f + extra_f[1::2], "g": tri_g + extra_g[1::2],
             "h": tri_h + extra_h[1::2], "i": tri_i + extra_i[1::2], "j": tri_j + extra_j[1::2],
             "k": tri_k + extra_k[1::2], "l": tri_l + extra_l[1::2]}
circles["c"] = circles["a"] + circles["b"]
triangles["c"] = triangles["a"] + triangles["b"]

W, H = 1353, 1045
col_edges = [(78, 333), (358, 613), (637, 892), (901, 1156)]
row_edges = [(49, 350), (358, 659), (666, 967)]
layout = [["a", "d", "g", "j"], ["b", "e", "h", "k"], ["c", "f", "i", "l"]]
colors = plt.cm.Blues(np.linspace(0, 1, len(L_values)))
color_of = dict(zip(L_values, colors))

fig = plt.figure(figsize=(W / 200, H / 200), dpi=200)


def draw_zeros(ax, pts, marker, size):
    for L in L_values:
        sel = [p for p in pts if p[2] == L]
        if sel:
            ax.scatter([p[0] for p in sel], [p[1] for p in sel], s=size, marker=marker, color=color_of[L],
                       linewidths=0, zorder=3 + 0.01 * L)


for r, (top, bottom) in enumerate(row_edges):
    for c, (left, right) in enumerate(col_edges):
        key = layout[r][c]
        ax = fig.add_axes([left / W, 1 - bottom / H, (right - left) / W, (bottom - top) / H])
        ax.set_xlim(-4.56, 3.51)
        ax.set_ylim(0, 9.3)
        ax.axvline(0, color="mediumseagreen", lw=1.15, zorder=1)
        for spine in ax.spines.values():
            spine.set_zorder(10)

        if c < 3:
            ls = "-" if c == 0 else (0, (5, 3.5))
            for curve in (curve_arc, curve_mid, curve_top, curve_right):
                ax.plot([p[0] for p in curve], [p[1] for p in curve], color="red", lw=0.65, ls=ls, zorder=2)

        draw_zeros(ax, circles[key], "o", 21)
        draw_zeros(ax, triangles[key], "^", 21)

        if key in ("a", "b"):
            px, py = path_a if key == "a" else path_b
            ax.plot(px, py, color="k", lw=1.1, marker="s", ms=3, mfc="white", mec="k", mew=0.7, zorder=6)

        if key in tc_vals:
            ax.plot([0], [tc_vals[key]], marker="x", color="red", ms=5.5, mew=1.1, ls="none", zorder=7)
            tx, ty = tc_pos[key]
            ax.text(tx, ty, "$t_c=" + tc_text[key] + "$", fontsize=7.25, ha="center", va="center", zorder=8)

        ax.text(0.584, 0.073, "$V=" + v_labels[key] + "$", transform=ax.transAxes, va="center", fontsize=8.6, zorder=8)
        if key in path_labels:
            ax.text(0.058, 0.063, path_labels[key], transform=ax.transAxes, va="center", fontsize=8.6, zorder=8)
        ax.text(0.07, 0.935, key, transform=ax.transAxes, fontweight="bold", fontsize=8.6, va="center", zorder=8)

        ax.set_xticks([-2.5, 0.0, 2.5])
        ax.set_yticks([0, 2, 4, 6, 8])
        if r < 2:
            ax.tick_params(bottom=False, labelbottom=False)
        else:
            ax.set_xlabel(r"$\mathrm{Re}\,\tau$", fontsize=8.6, labelpad=2.5)
        if c > 0:
            ax.tick_params(left=False, labelleft=False)
        else:
            ax.set_ylabel(r"$\mathrm{Im}\,\tau$", fontsize=8.6, labelpad=3.5)

fig.text(214 / W, 1 - 24 / H, "Noninteracting", ha="center", va="center", fontsize=8.6)
fig.text(482 / W, 1 - 24 / H, r"Repulsive int. ($V>0$)", ha="center", va="center", fontsize=8.6)
fig.text(883 / W, 1 - 24 / H, r"Attractive int. ($V<0$)", ha="center", va="center", fontsize=8.6)
for xpos in (345, 625):
    fig.add_artist(Line2D([xpos / W, xpos / W], [1 - 1032 / H, 1], color="k", lw=0.6))

path_handle = Line2D([], [], color="k", lw=1.1, marker="s", ms=2.8, mfc="white", mec="k", mew=0.7)
handles = [path_handle, Line2D([], [], color="red", lw=0.65)]
labels = ["path", "$V=0$"]
for L in L_values:
    handles.append(Line2D([], [], ls="none", marker="o", ms=4.3, mew=0, color=color_of[L]))
    labels.append("$L=7$" if L == 7 else "$%d$" % L)
handles.append(Line2D([], [], ls="none", marker="o", ms=3.4, mfc="none", mec="k", mew=1.0))
handles.append(Line2D([], [], ls="none", marker="^", ms=3.6, mfc="none", mec="k", mew=1.0))
labels += [r"$\Phi=0$", r"$\Phi=\pi$"]
fig.legend(handles, labels, loc="upper left", bbox_to_anchor=(1180 / W, 1 - 172 / H), borderaxespad=0, fontsize=8.6,
           labelspacing=0.5, handlelength=2.0, handletextpad=0.8, borderpad=0.42, fancybox=True,
           handler_map={path_handle: HandlerLine2D(numpoints=2)})

fig.savefig("out.png", dpi=200)
